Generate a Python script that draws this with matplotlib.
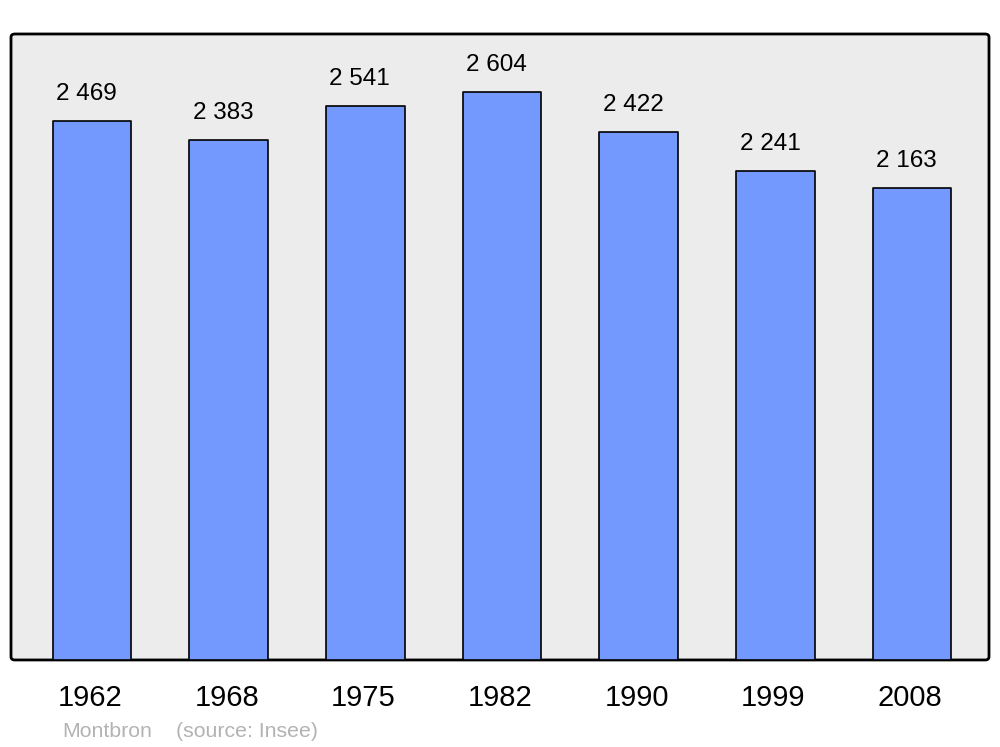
import matplotlib
matplotlib.use("Agg")
import matplotlib.pyplot as plt
import matplotlib.transforms as mtransforms
from matplotlib.patches import FancyBboxPatch

years = ["1962", "1968", "1975", "1982", "1990", "1999", "2008"]
population = [2469, 2383, 2541, 2604, 2422, 2241, 2163]
value_labels = ["2 469", "2 383", "2 541", "2 604", "2 422", "2 241", "2 163"]

plt.rcParams["font.family"] = ["Liberation Sans", "DejaVu Sans"]

fig = plt.figure(figsize=(10, 7.47), dpi=100)
ax = fig.add_axes([0.011, 0.1165, 0.978, 0.838])
ax.set_facecolor("none")

# rounded frame with grey background
frame = FancyBboxPatch(
    (0, 0), 1, 1,
    boxstyle="round,pad=0,rounding_size=0.004",
    mutation_aspect=1.3,
    transform=ax.transAxes,
    facecolor="#ececec",
    edgecolor="black",
    linewidth=2,
    clip_on=False,
    zorder=0
)
ax.add_patch(frame)

x = list(range(len(years)))
bars = ax.bar(
    x,
    population,
    width=0.575,
    color="#7399ff",
    edgecolor="black",
    linewidth=1.2,
    zorder=2
)
for b in bars:
    b.set_joinstyle("round")

for xi, v, lab in zip(x, population, value_labels):
    ax.annotate(
        lab,
        (xi, v),
        xytext=(-4, 19.5),
        textcoords="offset points",
        ha="center",
        va="center",
        fontsize=17.5,
        color="black"
    )

ax.set_xlim(-0.5925, 6.562)
ax.set_ylim(0, 2870)

for s in ax.spines.values():
    s.set_visible(False)
ax.set_yticks([])
ax.set_xticks(x)
ax.set_xticklabels(years, fontsize=21)
ax.tick_params(axis="x", length=0, pad=17)
shift = mtransforms.ScaledTranslation(-2 / 100, 0, fig.dpi_scale_trans)
for lbl in ax.get_xticklabels():
    lbl.set_transform(lbl.get_transform() + shift)

fig.text(0.062, 0.021, "Montbron", color="#b3b3b3", fontsize=15.3, ha="left", va="center")
fig.text(0.176, 0.021, "(source: Insee)", color="#b3b3b3", fontsize=15.3, ha="left", va="center")

fig.savefig("out.png", dpi=100)
